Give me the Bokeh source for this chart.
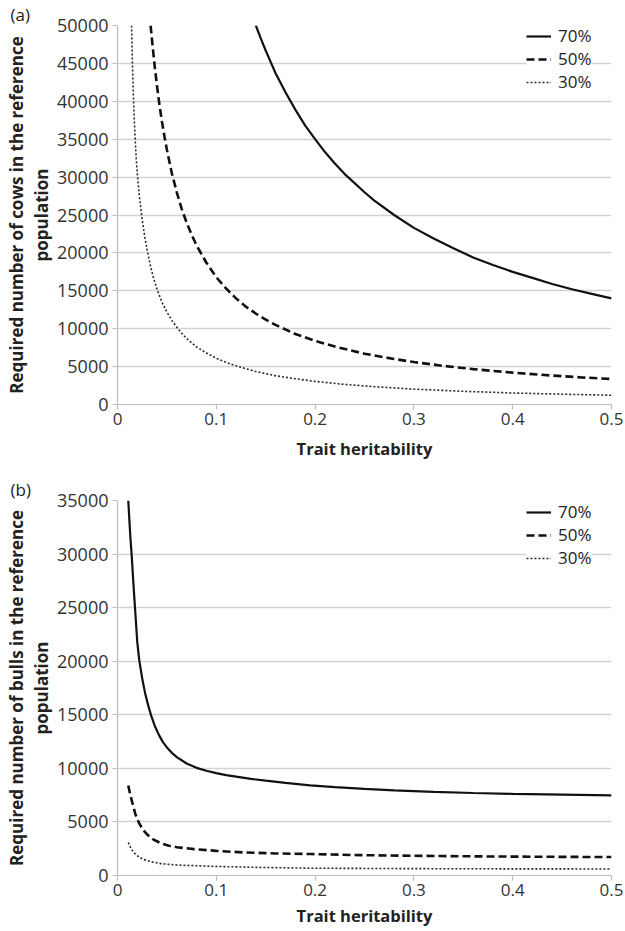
from bokeh.plotting import figure
from bokeh.layouts import column
from bokeh.models import (Legend, LegendItem, Title, SingleIntervalTicker,
                          FixedTicker, PrintfTickFormatter, Range1d)
from bokeh.embed import file_html
from bokeh.resources import INLINE

# ---------------- data ----------------
series_labels = ["70%", "50%", "30%"]
x_ticks = [0, 0.1, 0.2, 0.3, 0.4, 0.5]

# (a) cows
cows70_h = [0.14, 0.145, 0.15, 0.155, 0.16, 0.17, 0.18, 0.19, 0.20, 0.21, 0.22, 0.23, 0.24, 0.25,
            0.26, 0.28, 0.30, 0.32, 0.34, 0.36, 0.38, 0.40, 0.42, 0.44, 0.46, 0.48, 0.50]
cows70_n = [50000, 48300, 46700, 45200, 43700, 41200, 38900, 36800, 35000, 33300, 31800, 30400,
            29200, 28000, 26900, 25000, 23300, 21900, 20600, 19400, 18400, 17500, 16700, 15900,
            15200, 14600, 14000]

cows50_h = [0.0335, 0.035, 0.0375, 0.04, 0.0425, 0.045, 0.0475, 0.05, 0.055, 0.06, 0.065, 0.07,
            0.075, 0.08, 0.09, 0.10, 0.11, 0.12, 0.13, 0.14, 0.15, 0.16, 0.18, 0.20, 0.22, 0.25,
            0.28, 0.30, 0.33, 0.36, 0.40, 0.44, 0.47, 0.50]
cows50_n = [50000, 48000, 44800, 42000, 39500, 37300, 35400, 33600, 30500, 28000, 25800, 24000,
            22400, 21000, 18700, 16800, 15300, 14000, 12900, 12000, 11200, 10500, 9300, 8400,
            7640, 6700, 6000, 5600, 5090, 4670, 4200, 3820, 3570, 3370]

cows30_h = [0.0142, 0.015, 0.016, 0.017, 0.018, 0.019, 0.020, 0.022, 0.024, 0.026, 0.028, 0.030,
            0.033, 0.036, 0.040, 0.045, 0.050, 0.055, 0.060, 0.065, 0.070, 0.080, 0.090, 0.10,
            0.11, 0.12, 0.14, 0.16, 0.18, 0.20, 0.23, 0.26, 0.30, 0.35, 0.40, 0.45, 0.50]
cows30_n = [50000, 45500, 41000, 37500, 34700, 32400, 30500, 27700, 25400, 23500, 21800, 20400,
            18500, 16900, 15200, 13500, 12200, 11100, 10200, 9400, 8700, 7600, 6800, 6100,
            5550, 5100, 4350, 3800, 3400, 3050, 2650, 2350, 2030, 1740, 1520, 1360, 1220]

# (b) bulls
bulls70_h = [0.0109, 0.012, 0.013, 0.0143, 0.016, 0.0177, 0.020, 0.022, 0.025, 0.028, 0.031,
             0.034, 0.038, 0.042, 0.046, 0.050, 0.055, 0.060, 0.070, 0.080, 0.090, 0.10, 0.11,
             0.12, 0.135, 0.15, 0.17, 0.195, 0.22, 0.25, 0.28, 0.32, 0.36, 0.40, 0.45, 0.50]
bulls70_n = [35000, 33200, 31600, 30000, 27400, 25000, 21800, 20100, 18400, 17000, 15900,
             14950, 13900, 13100, 12450, 11950, 11450, 11050, 10450, 10050, 9780, 9550, 9370,
             9230, 9020, 8850, 8650, 8420, 8250, 8090, 7950, 7800, 7700, 7620, 7550, 7480]

bulls50_h = [0.0109, 0.013, 0.0153, 0.018, 0.022, 0.026, 0.0304, 0.036, 0.0439, 0.052, 0.06,
             0.0776, 0.10, 0.128, 0.16, 0.1955, 0.246, 0.30, 0.37, 0.43, 0.50]
bulls50_n = [8400, 7500, 6700, 5750, 4860, 4250, 3790, 3380, 3010, 2780, 2640,
             2460, 2300, 2150, 2060, 2000, 1900, 1840, 1780, 1750, 1720]

bulls30_h = [0.0109, 0.014, 0.0186, 0.0225, 0.0271, 0.035, 0.0439, 0.06, 0.0944, 0.14, 0.1955,
             0.30, 0.40, 0.50]
bulls30_n = [3080, 2450, 1940, 1680, 1480, 1270, 1110, 980, 860, 760, 680, 640, 620, 610]

FONT = "Open Sans"
STYLES = [dict(line_color="#111111", line_width=2.2, line_dash="solid"),
          dict(line_color="#111111", line_width=2.6, line_dash="8 4"),
          dict(line_color="#2a2a2a", line_width=1.6, line_dash="2 2")]


def make_fig(height, border_top, border_bottom, ymax, ylabel, panel, series, frame_h,
             xlabel_standoff, xtick_standoff):
    p = figure(width=625, height=height, output_backend="svg", toolbar_location=None,
               x_range=Range1d(0, 0.5), y_range=Range1d(0, ymax),
               min_border_left=117, min_border_right=14,
               min_border_top=border_top, min_border_bottom=border_bottom)
    p.outline_line_color = None
    p.background_fill_color = "white"
    p.border_fill_color = "white"

    p.xgrid.grid_line_color = None
    p.ygrid.grid_line_color = "#d2d2d2"
    p.ygrid.grid_line_width = 1.4

    for ax in (p.xaxis[0], p.yaxis[0]):
        ax.axis_line_color = "#bdbdbd"
        ax.axis_line_width = 1.2
        ax.major_tick_line_color = "#bdbdbd"
        ax.major_tick_line_width = 1.2
        ax.major_tick_in = 0
        ax.major_tick_out = 5
        ax.minor_tick_line_color = None
        ax.major_label_text_font = FONT
        ax.major_label_text_color = "#333333"
        ax.axis_label_text_font = FONT
        ax.axis_label_text_font_style = "bold"
        ax.axis_label_text_color = "#222222"

    p.xaxis.ticker = FixedTicker(ticks=x_ticks)
    p.xaxis.formatter = PrintfTickFormatter(format="%g")
    p.xaxis.major_label_text_font_size = "17px"
    p.xaxis.major_label_standoff = xtick_standoff
    p.xaxis.axis_label = "Trait heritability"
    p.xaxis.axis_label_text_font_size = "16.5px"
    p.xaxis.axis_label_standoff = xlabel_standoff

    p.yaxis.ticker = SingleIntervalTicker(interval=5000)
    p.yaxis.formatter = PrintfTickFormatter(format="%d")
    p.yaxis.major_label_text_font_size = "18px"
    p.yaxis.major_label_standoff = 4
    p.yaxis.axis_label = ylabel
    p.yaxis.axis_label_text_font_size = "17px"
    p.yaxis.axis_label_standoff = 1
    p.yaxis.axis_label_text_line_height = 1.08

    items = []
    for (lab, (hx, ny)), st in zip(zip(series_labels, series), STYLES):
        r = p.line(hx, ny, **st)
        items.append(LegendItem(label=lab, renderers=[r]))

    leg = Legend(items=items, location=(409, frame_h - 69), orientation="vertical",
                 label_text_font=FONT, label_text_font_size="17px",
                 label_text_color="#222222",
                 glyph_width=25, glyph_height=20, label_height=20, label_standoff=7,
                 spacing=0, padding=2, margin=0,
                 border_line_color=None, background_fill_color="white",
                 background_fill_alpha=1.0)
    p.add_layout(leg)

    p.add_layout(Title(text=panel, align="left", offset=-107, standoff=0,
                       text_font=FONT, text_font_size="17px", text_font_style="normal",
                       text_color="#222222"), "above")
    return p


p1 = make_fig(464, 24, 60, 50000,
              "Required number of cows in the reference\npopulation", "(a)",
              [(cows70_h, cows70_n), (cows50_h, cows50_n), (cows30_h, cows30_n)], 380, 9, 3)
p2 = make_fig(466, 36, 55, 35000,
              "Required number of bulls in the reference\npopulation", "(b)",
              [(bulls70_h, bulls70_n), (bulls50_h, bulls50_n), (bulls30_h, bulls30_n)], 375, 5, 3)

layout = column(p1, p2, spacing=0)
open("out.html", "w").write(file_html(layout, INLINE))
